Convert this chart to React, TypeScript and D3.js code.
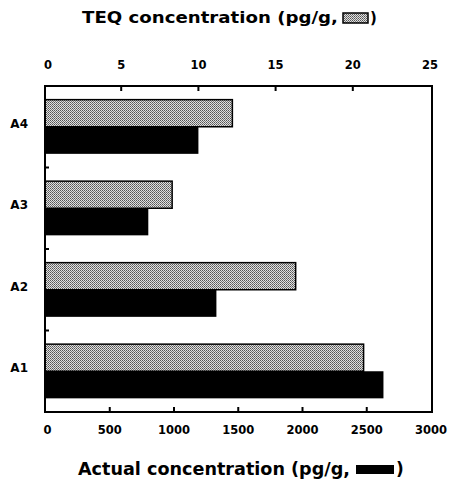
import React from 'react'
import * as d3 from 'd3'

const categories = ['A4', 'A3', 'A2', 'A1']
const teqValues = [12.2, 8.3, 16.3, 20.7]
const actualValues = [1190, 800, 1330, 2630]
const teqTicks = [0, 5, 10, 15, 20, 25]
const actualTicks = [0, 500, 1000, 1500, 2000, 2500, 3000]

const FONT = '"DejaVu Sans", "Liberation Sans", Arial, sans-serif'

const App = () => {
  const width = 453
  const height = 486
  const left = 45
  const right = 432
  const top = 86
  const bottom = 412

  const xTeq = d3.scaleLinear().domain([0, 25]).range([44, 430])
  const xAct = d3.scaleLinear().domain([0, 3000]).range([45.5, 431])
  const y = d3.scaleBand().domain(categories).range([top, bottom])
    .paddingInner(0.335).paddingOuter(0.1675)
  const sub = d3.scaleBand().domain(['teq', 'act']).range([0, y.bandwidth()])

  const step = y.step()
  const boundaries = categories.slice(1).map((c) => (y(c) as number) - (step - y.bandwidth()) / 2)

  return (
    <svg width={width} height={height} style={{ position: 'absolute', left: 0, top: 0, background: '#fff' }}
      fontFamily={FONT} fontWeight="bold">
      <defs>
        <pattern id="dots" width="2" height="2" patternUnits="userSpaceOnUse">
          <rect width="2" height="2" fill="#e0e0e0" />
          <rect x="0" y="0" width="1" height="1" fill="#555" />
          <rect x="1" y="1" width="1" height="1" fill="#777" />
        </pattern>
      </defs>

      {/* titles */}
      <text x={82} y={23} fontSize={15} textLength={256} lengthAdjust="spacingAndGlyphs">TEQ concentration (pg/g,</text>
      <rect x={343} y={13} width={25} height={10} fill="url(#dots)" stroke="#000" strokeWidth={1.5} />
      <text x={370} y={23} fontSize={15}>)</text>

      <text x={78} y={475} fontSize={17} textLength={272} lengthAdjust="spacingAndGlyphs">Actual concentration (pg/g,</text>
      <rect x={356} y={465} width={38} height={9} fill="#000" />
      <text x={396} y={475} fontSize={17}>)</text>

      {/* bars */}
      {categories.map((c, i) => (
        <g key={c}>
          <rect x={left} y={(y(c) as number) + (sub('teq') as number)}
            width={xTeq(teqValues[i]) - left} height={sub.bandwidth()}
            fill="url(#dots)" stroke="#000" strokeWidth={1.5} />
          <rect x={left} y={(y(c) as number) + (sub('act') as number)}
            width={xAct(actualValues[i]) - left} height={sub.bandwidth()}
            fill="#000" />
          <text x={28} y={(y(c) as number) + y.bandwidth() / 2 + 1} fontSize={12} textAnchor="end">{c}</text>
        </g>
      ))}

      {/* frame */}
      <rect x={left} y={top} width={right - left} height={bottom - top} fill="none" stroke="#000" strokeWidth={2} />

      {/* top axis */}
      {teqTicks.map((t) => (
        <g key={`t${t}`}>
          {t > 0 && t < 25 && <line x1={xTeq(t)} x2={xTeq(t)} y1={top} y2={top + 5} stroke="#000" strokeWidth={2} />}
          <text x={xTeq(t) + (t === 0 ? 4 : 0)} y={69} fontSize={11.5} textAnchor="middle">{t}</text>
        </g>
      ))}

      {/* bottom axis */}
      {actualTicks.map((t) => (
        <g key={`b${t}`}>
          {t > 0 && t < 3000 && <line x1={xAct(t)} x2={xAct(t)} y1={bottom} y2={bottom - 5} stroke="#000" strokeWidth={2} />}
          <text x={xAct(t) + (t === 0 ? 2 : 0)} y={434} fontSize={11.5} textAnchor="middle">{t}</text>
        </g>
      ))}

      {/* left ticks */}
      {boundaries.map((b) => (
        <line key={b} x1={left} x2={left + 4} y1={b} y2={b} stroke="#000" strokeWidth={2} />
      ))}
    </svg>
  )
}

export default App
